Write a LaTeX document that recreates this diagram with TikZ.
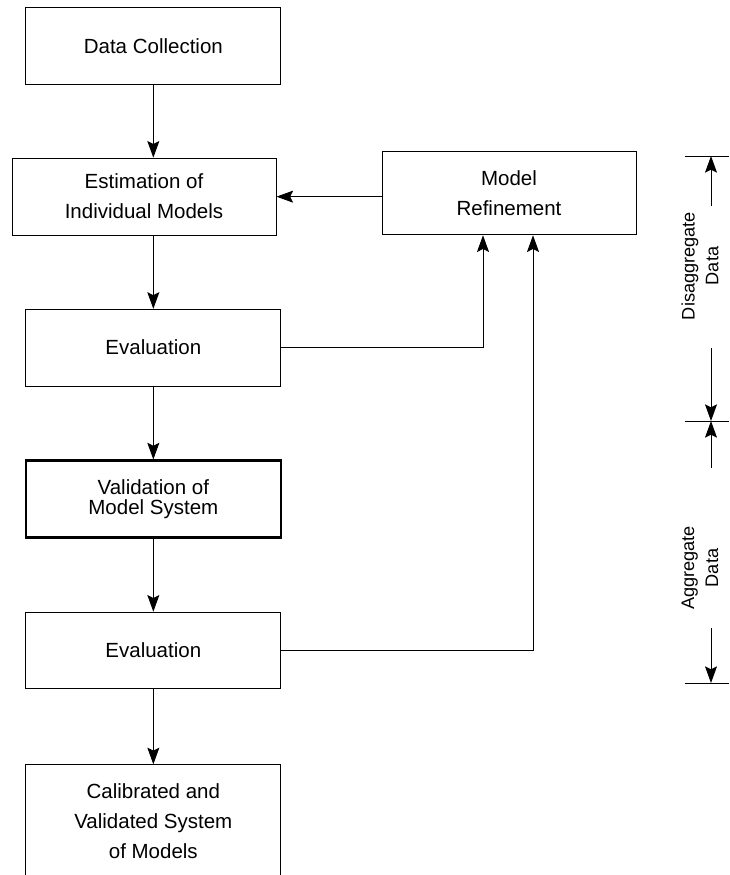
\documentclass[tikz,border=0pt]{standalone}
\usepackage{fontspec}
\setmainfont{Liberation Sans}
\usepackage{tikz}
\usetikzlibrary{arrows.meta,positioning}

\begin{document}
\begin{tikzpicture}[
    block/.style={
      rectangle,
      draw=black,
      line width=0.8pt,
      align=center,
      minimum width=7.65cm,
      minimum height=2.3cm,
      inner sep=2pt,
      font={\fontsize{17.5}{25.6}\selectfont}
    },
    flow/.style={
      -{Stealth[length=0.5cm,width=0.36cm,inset=0.09cm]},
      line width=0.8pt
    },
    dimtext/.style={
      rotate=90,
      align=center,
      font={\fontsize{15.5}{20.4}\selectfont}
    }
]
\useasboundingbox (0,0) rectangle (21.87,-26.25);

\node [block] (collect) at (4.6,-1.38) {Data Collection};
\node [block, minimum width=7.92cm, minimum height=2.31cm] (estim) at (4.32,-5.9) {Estimation of\\Individual Models};
\node [block, minimum width=7.62cm, minimum height=2.49cm] (refine) at (15.27,-5.8) {Model\\Refinement};
\node [block] (eval1) at (4.6,-10.43) {Evaluation};
\node [block, line width=2.2pt, font={\fontsize{17.5}{16.5}\selectfont}] (valid) [below = 2.19cm of eval1] {Validation of\\Model System};
\node [block] (eval2) [below = 2.19cm of valid] {Evaluation};
\node [block, minimum height=3.36cm] (calib) [below = 2.25cm of eval2] {Calibrated and\\Validated System\\of Models};

%% Main flow
\draw [flow] (collect.south) -- (collect.south |- estim.north);
\draw [flow] (collect.south |- estim.south) -- (eval1.north);
\draw [flow] (eval1) -- (valid);
\draw [flow] (valid) -- (eval2);
\draw [flow] (eval2) -- (calib);

%% Feedback
\draw [flow] (refine.west |- estim.east) -- (estim.east);
\draw [flow] (eval1.east) -| ([xshift=-0.78cm]refine.south);
\draw [flow] (eval2.east) -| ([xshift=0.72cm]refine.south);

%% Data ranges
\coordinate (dtop) at (21.33,-4.68);
\coordinate (dmid) at (21.33,-12.63);
\coordinate (dbot) at (21.33,-20.49);

\draw [line width=0.8pt] ([xshift=-0.78cm]dtop) -- ([xshift=0.54cm]dtop);
\draw [line width=0.8pt] ([xshift=-0.78cm]dmid) -- ([xshift=0.54cm]dmid);
\draw [line width=0.8pt] ([xshift=-0.78cm]dbot) -- ([xshift=0.54cm]dbot);

\draw [flow] ([yshift=-1.5cm]dtop) -- (dtop);
\draw [flow] ([yshift=2.19cm]dmid) -- (dmid);
\draw [flow] ([yshift=-1.41cm]dmid) -- (dmid);
\draw [flow] ([yshift=1.65cm]dbot) -- (dbot);

\node [dimtext] (disagg) at (21.0,-7.98) {Disaggregate\\Data};
\node [dimtext] (agg) at (21.0,-17.04) {Aggregate\\Data};

\end{tikzpicture}
\end{document}
